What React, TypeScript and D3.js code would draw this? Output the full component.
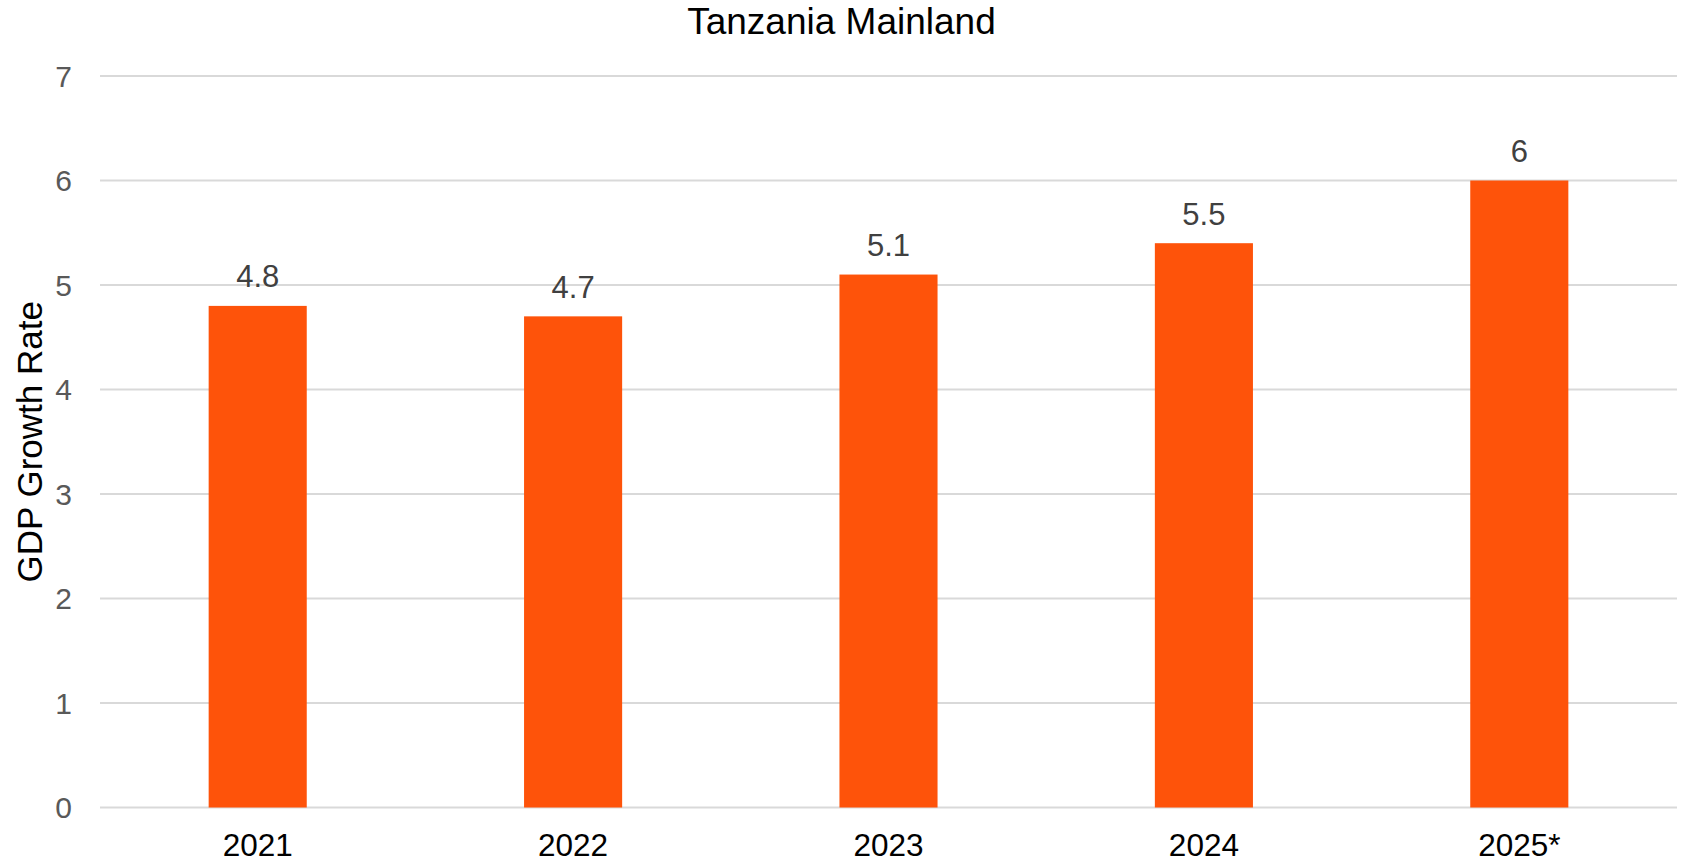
import React from "react";
import * as d3 from "d3";

const categories = ["2021", "2022", "2023", "2024", "2025*"];
const values = [4.8, 4.7, 5.1, 5.4, 6.0];
const valueLabels = ["4.8", "4.7", "5.1", "5.5", "6"];
const yTicks = [0, 1, 2, 3, 4, 5, 6, 7];
const title = "Tanzania Mainland";
const yTitle = "GDP Growth Rate";

const W = 1683;
const H = 864;
const margin = { left: 100, right: 6, top: 76, bottom: 56.5 };
const FONT = "'Liberation Sans', Arial, Helvetica, sans-serif";
const BAR = "#FE530A";

export default function App() {
  const x = d3
    .scaleBand<string>()
    .domain(categories)
    .range([margin.left, W - margin.right])
    .paddingInner(0.689)
    .paddingOuter(0.3445);
  const y = d3.scaleLinear().domain([0, 7]).range([H - margin.bottom, margin.top]);

  return (
    <svg
      width={W}
      height={H}
      style={{ position: "absolute", left: 0, top: 0, display: "block", background: "#fff" }}
      fontFamily={FONT}
    >
      <text x={W / 2} y={34} textAnchor="middle" fontSize={37} fill="#000">
        {title}
      </text>
      {yTicks.map((t) => (
        <g key={t}>
          <line
            x1={margin.left}
            x2={W - margin.right}
            y1={y(t)}
            y2={y(t)}
            stroke="#d9d9d9"
            strokeWidth={2}
          />
          <text
            x={72}
            y={y(t)}
            dy="0.36em"
            textAnchor="end"
            fontSize={30}
            fill="#595959"
          >
            {t}
          </text>
        </g>
      ))}
      {categories.map((c, i) => (
        <g key={c}>
          <rect
            x={x(c)}
            y={y(values[i])}
            width={x.bandwidth()}
            height={y(0) - y(values[i])}
            fill={BAR}
          />
          <text
            x={(x(c) as number) + x.bandwidth() / 2}
            y={y(values[i]) - 18.5}
            textAnchor="middle"
            fontSize={31}
            fill="#404040"
          >
            {valueLabels[i]}
          </text>
          <text
            x={(x(c) as number) + x.bandwidth() / 2}
            y={856}
            textAnchor="middle"
            fontSize={31.5}
            fill="#000"
          >
            {c}
          </text>
        </g>
      ))}
      <text
        transform={`translate(42, ${(y(0) + y(7)) / 2}) rotate(-90)`}
        textAnchor="middle"
        fontSize={35}
        fill="#000"
      >
        {yTitle}
      </text>
    </svg>
  );
}
